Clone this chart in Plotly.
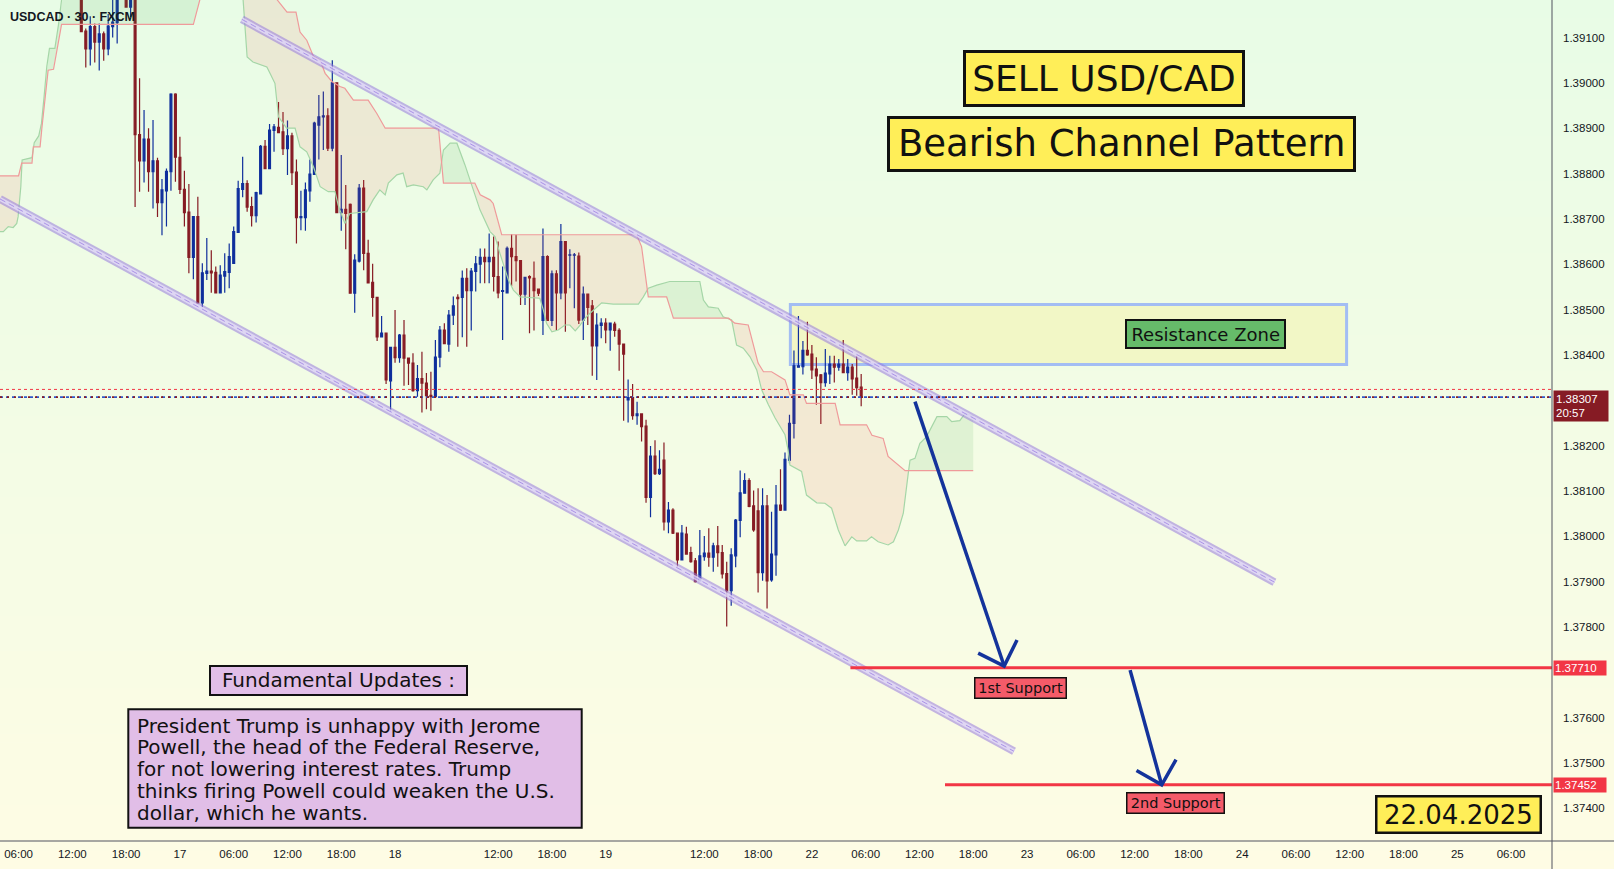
import math
import numpy as np
import plotly.graph_objects as go

# ---------------- data ----------------
candle_idx = list(range(175))
open_ = [1.39200, 1.39114, 1.39075, 1.39124, 1.39090, 1.39108, 1.39075, 1.39124, 1.39133, 1.39195,
         1.39205, 1.39167, 1.39195, 1.38886, 1.38828, 1.38876, 1.38804, 1.38828, 1.38736, 1.38762,
         1.38804, 1.38975, 1.38836, 1.38765, 1.38715, 1.38615, 1.38705, 1.38515, 1.38580, 1.38585,
         1.38582, 1.38537, 1.38574, 1.38582, 1.38602, 1.38670, 1.38765, 1.38778, 1.38727, 1.38707,
         1.38755, 1.38860, 1.38811, 1.38895, 1.38902, 1.38892, 1.38855, 1.38883, 1.38803, 1.38703,
         1.38703, 1.38762, 1.38798, 1.38907, 1.38925, 1.38927, 1.38856, 1.39000, 1.38714, 1.38721,
         1.38732, 1.38536, 1.38607, 1.38768, 1.38624, 1.38560, 1.38527, 1.38440, 1.38448, 1.38343,
         1.38417, 1.38394, 1.38444, 1.38393, 1.38382, 1.38321, 1.38348, 1.38338, 1.38311, 1.38308,
         1.38395, 1.38455, 1.38424, 1.38488, 1.38527, 1.38527, 1.38569, 1.38542, 1.38584, 1.38600,
         1.38615, 1.38606, 1.38615, 1.38573, 1.38540, 1.38537, 1.38635, 1.38617, 1.38608, 1.38534,
         1.38573, 1.38569, 1.38545, 1.38476, 1.38617, 1.38476, 1.38579, 1.38537, 1.38650, 1.38620,
         1.38620, 1.38618, 1.38477, 1.38534, 1.38508, 1.38420, 1.38465, 1.38470, 1.38455, 1.38468,
         1.38454, 1.38424, 1.38301, 1.38306, 1.38266, 1.38270, 1.38243, 1.38086, 1.38177, 1.38138,
         1.38168, 1.38032, 1.38058, 1.38007, 1.37948, 1.38005, 1.37964, 1.37946, 1.37902, 1.37955,
         1.37963, 1.37954, 1.37979, 1.37964, 1.37918, 1.37880, 1.37957, 1.38035, 1.38095, 1.38123,
         1.38067, 1.38056, 1.37920, 1.38067, 1.37904, 1.37959, 1.38069, 1.38058, 1.38168, 1.38249,
         1.38373, 1.38374, 1.38410, 1.38402, 1.38369, 1.38356, 1.38339, 1.38358, 1.38380, 1.38373,
         1.38380, 1.38361, 1.38373, 1.38349, 1.38329]
high = [1.39210, 1.39120, 1.39147, 1.39131, 1.39131, 1.39113, 1.39152, 1.39195, 1.39205, 1.39220,
        1.39215, 1.39200, 1.39205, 1.39010, 1.38940, 1.38900, 1.38918, 1.38835, 1.38788, 1.38811,
        1.38977, 1.38977, 1.38881, 1.38806, 1.38777, 1.38705, 1.38749, 1.38602, 1.38658, 1.38631,
        1.38595, 1.38598, 1.38624, 1.38646, 1.38683, 1.38784, 1.38837, 1.38785, 1.38749, 1.38760,
        1.38863, 1.38874, 1.38909, 1.38909, 1.38958, 1.38936, 1.38917, 1.38890, 1.38831, 1.38762,
        1.38780, 1.38831, 1.38914, 1.38973, 1.38981, 1.38944, 1.39050, 1.39001, 1.38841, 1.38775,
        1.38734, 1.38622, 1.38777, 1.38786, 1.38654, 1.38601, 1.38527, 1.38486, 1.38448, 1.38417,
        1.38499, 1.38446, 1.38477, 1.38393, 1.38404, 1.38378, 1.38407, 1.38360, 1.38363, 1.38433,
        1.38464, 1.38470, 1.38499, 1.38529, 1.38534, 1.38586, 1.38591, 1.38592, 1.38618, 1.38635,
        1.38635, 1.38668, 1.38661, 1.38650, 1.38595, 1.38639, 1.38666, 1.38665, 1.38608, 1.38571,
        1.38576, 1.38606, 1.38545, 1.38679, 1.38620, 1.38586, 1.38587, 1.38689, 1.38650, 1.38633,
        1.38625, 1.38626, 1.38551, 1.38534, 1.38521, 1.38492, 1.38481, 1.38481, 1.38470, 1.38473,
        1.38459, 1.38424, 1.38346, 1.38336, 1.38297, 1.38270, 1.38257, 1.38199, 1.38212, 1.38190,
        1.38207, 1.38076, 1.38062, 1.38007, 1.38025, 1.38021, 1.37977, 1.37952, 1.38014, 1.38001,
        1.38018, 1.37986, 1.38023, 1.37981, 1.37944, 1.37974, 1.38038, 1.38145, 1.38139, 1.38128,
        1.38101, 1.38106, 1.38106, 1.38091, 1.38054, 1.38113, 1.38148, 1.38185, 1.38268, 1.38410,
        1.38486, 1.38431, 1.38473, 1.38422, 1.38395, 1.38358, 1.38413, 1.38398, 1.38398, 1.38391,
        1.38433, 1.38391, 1.38380, 1.38398, 1.38358]
low = [1.39112, 1.39034, 1.39038, 1.39045, 1.39027, 1.39049, 1.39061, 1.39100, 1.39087, 1.39190,
       1.39166, 1.39145, 1.38726, 1.38760, 1.38780, 1.38760, 1.38723, 1.38704, 1.38664, 1.38683,
       1.38762, 1.38782, 1.38755, 1.38683, 1.38580, 1.38567, 1.38514, 1.38505, 1.38565, 1.38537,
       1.38537, 1.38537, 1.38537, 1.38547, 1.38602, 1.38670, 1.38748, 1.38716, 1.38683, 1.38692,
       1.38755, 1.38811, 1.38811, 1.38848, 1.38890, 1.38841, 1.38797, 1.38775, 1.38646, 1.38675,
       1.38674, 1.38738, 1.38798, 1.38831, 1.38852, 1.38850, 1.38849, 1.38714, 1.38674, 1.38633,
       1.38536, 1.38493, 1.38604, 1.38587, 1.38558, 1.38484, 1.38431, 1.38439, 1.38336, 1.38275,
       1.38383, 1.38383, 1.38332, 1.38334, 1.38319, 1.38308, 1.38273, 1.38280, 1.38277, 1.38308,
       1.38373, 1.38424, 1.38407, 1.38466, 1.38418, 1.38439, 1.38418, 1.38454, 1.38540, 1.38558,
       1.38558, 1.38558, 1.38540, 1.38525, 1.38433, 1.38537, 1.38552, 1.38562, 1.38510, 1.38510,
       1.38448, 1.38454, 1.38530, 1.38444, 1.38476, 1.38464, 1.38454, 1.38523, 1.38451, 1.38547,
       1.38503, 1.38468, 1.38433, 1.38466, 1.38354, 1.38345, 1.38437, 1.38426, 1.38409, 1.38440,
       1.38365, 1.38255, 1.38251, 1.38257, 1.38246, 1.38209, 1.38074, 1.38042, 1.38135, 1.38135,
       1.38013, 1.38007, 1.38005, 1.37932, 1.37948, 1.37961, 1.37942, 1.37898, 1.37902, 1.37946,
       1.37933, 1.37922, 1.37933, 1.37907, 1.37801, 1.37847, 1.37932, 1.37998, 1.38095, 1.38064,
       1.38010, 1.37876, 1.37902, 1.37841, 1.37900, 1.37913, 1.38056, 1.38058, 1.38161, 1.38216,
       1.38373, 1.38357, 1.38398, 1.38347, 1.38290, 1.38248, 1.38330, 1.38336, 1.38339, 1.38365,
       1.38361, 1.38343, 1.38312, 1.38310, 1.38287]
close = [1.39113, 1.39075, 1.39124, 1.39090, 1.39108, 1.39075, 1.39125, 1.39134, 1.39195, 1.39210,
         1.39167, 1.39195, 1.38886, 1.38828, 1.38876, 1.38804, 1.38828, 1.38736, 1.38764, 1.38805,
         1.38975, 1.38836, 1.38765, 1.38714, 1.38615, 1.38705, 1.38515, 1.38581, 1.38585, 1.38581,
         1.38537, 1.38576, 1.38584, 1.38617, 1.38672, 1.38767, 1.38778, 1.38726, 1.38707, 1.38758,
         1.38860, 1.38811, 1.38896, 1.38903, 1.38890, 1.38855, 1.38883, 1.38802, 1.38703, 1.38705,
         1.38764, 1.38799, 1.38911, 1.38925, 1.38927, 1.38856, 1.39000, 1.38714, 1.38721, 1.38712,
         1.38536, 1.38609, 1.38768, 1.38624, 1.38559, 1.38527, 1.38440, 1.38448, 1.38345, 1.38417,
         1.38394, 1.38444, 1.38393, 1.38382, 1.38321, 1.38348, 1.38338, 1.38310, 1.38308, 1.38395,
         1.38455, 1.38425, 1.38488, 1.38508, 1.38524, 1.38569, 1.38542, 1.38585, 1.38601, 1.38615,
         1.38606, 1.38615, 1.38573, 1.38537, 1.38542, 1.38635, 1.38617, 1.38608, 1.38534, 1.38571,
         1.38570, 1.38542, 1.38536, 1.38617, 1.38476, 1.38579, 1.38537, 1.38650, 1.38537, 1.38621,
         1.38621, 1.38477, 1.38534, 1.38505, 1.38420, 1.38466, 1.38470, 1.38455, 1.38470, 1.38454,
         1.38424, 1.38402, 1.38306, 1.38266, 1.38270, 1.38242, 1.38086, 1.38177, 1.38138, 1.38148,
         1.38032, 1.38058, 1.38007, 1.37948, 1.38007, 1.37961, 1.37944, 1.37900, 1.37957, 1.37963,
         1.37954, 1.37979, 1.37964, 1.37917, 1.37880, 1.37959, 1.38036, 1.38096, 1.38123, 1.38066,
         1.38014, 1.37920, 1.38067, 1.37902, 1.37961, 1.38069, 1.38058, 1.38170, 1.38249, 1.38376,
         1.38376, 1.38410, 1.38400, 1.38367, 1.38354, 1.38339, 1.38360, 1.38380, 1.38373, 1.38380,
         1.38361, 1.38373, 1.38347, 1.38328, 1.38307]

# Ichimoku cloud: Senkou Span A (green) and Span B (red), at bar index
span_a_idx = [-18.2, -17.4, -16.3, -15.2, -14.4, -14.1, -13.5, -13.2, -11.0, -10.5,
              -9.5, -8.9, -8.3, -7.7, -7.1, -5.9, -5.1, -4.4, -3.5, 35.5,
              36.1, 37.0, 38.3, 41.4, 42.1, 43.2, 44.0, 45.8, 47.7, 48.8,
              50.3, 51.8, 53.3, 55.1, 56.6, 57.3, 58.8, 59.9, 63.7, 65.1,
              66.6, 67.8, 68.5, 70.4, 71.8, 72.6, 74.1, 76.3, 77.1, 78.5,
              80.0, 80.8, 82.3, 83.8, 85.6, 88.2, 88.95, 91.2, 92.3, 93.4,
              94.3, 95.3, 96.4, 97.9, 102.3, 103.1, 103.8, 105.0, 106.4, 107.9,
              109.0, 110.2, 111.3, 112.4, 113.5, 115.0, 116.1, 118.7, 124.3, 125.4,
              126.5, 128.4, 131.3, 138.0, 138.8, 139.9, 142.1, 143.2, 145.1, 146.2,
              147.7, 149.2, 150.7, 151.8, 153.3, 154.8, 155.9, 157.0, 157.7, 158.1,
              160.7, 161.8, 164.1, 165.9, 167.4, 168.9, 170.4, 171.9, 173.0, 175.2,
              176.3, 177.8, 180.0, 181.2, 182.3, 183.4, 184.5, 184.9, 186.0, 187.1,
              188.6, 190.9, 193.1, 194.2, 196.0, 197.2, 199.0]
span_a = [1.38672, 1.38672, 1.38683, 1.38681, 1.38690, 1.38705, 1.38771, 1.38830, 1.38835, 1.38868,
          1.38883, 1.38910, 1.38970, 1.39036, 1.39076, 1.39076, 1.39128, 1.39183, 1.39230, 1.39230,
          1.39183, 1.39057, 1.39046, 1.39035, 1.39021, 1.38999, 1.38925, 1.38900, 1.38900, 1.38859,
          1.38848, 1.38815, 1.38771, 1.38760, 1.38760, 1.38731, 1.38690, 1.38712, 1.38716, 1.38742,
          1.38764, 1.38753, 1.38779, 1.38797, 1.38801, 1.38771, 1.38775, 1.38771, 1.38764, 1.38786,
          1.38801, 1.38852, 1.38867, 1.38867, 1.38819, 1.38742, 1.38720, 1.38672, 1.38661, 1.38624,
          1.38595, 1.38565, 1.38543, 1.38528, 1.38525, 1.38499, 1.38470, 1.38451, 1.38455, 1.38466,
          1.38466, 1.38453, 1.38466, 1.38481, 1.38492, 1.38506, 1.38515, 1.38512, 1.38512, 1.38528,
          1.38547, 1.38554, 1.38562, 1.38562, 1.38521, 1.38506, 1.38503, 1.38484, 1.38477, 1.38422,
          1.38415, 1.38396, 1.38367, 1.38323, 1.38290, 1.38261, 1.38241, 1.38224, 1.38190, 1.38157,
          1.38143, 1.38091, 1.38074, 1.38073, 1.38062, 1.38014, 1.37979, 1.37999, 1.37990, 1.37990,
          1.37999, 1.37988, 1.37981, 1.37988, 1.38014, 1.38051, 1.38139, 1.38168, 1.38172, 1.38205,
          1.38220, 1.38264, 1.38264, 1.38253, 1.38255, 1.38271, 1.38265]
span_b_idx = [-18.2, -14.0, -13.3, -11.0, -10.7, -9.2, -8.8, -8.1, -7.4, -6.2,
              -4.4, 25.0, 26.5, 30.0, 40.0, 43.7, 45.9, 47.9, 48.8, 50.3,
              51.8, 53.3, 54.4, 55.9, 57.7, 58.8, 60.7, 64.0, 65.9, 67.8,
              79.7, 80.8, 87.8, 89.0, 91.2, 91.9, 93.8, 123.9, 125.0, 126.5,
              130.6, 132.1, 144.4, 145.8, 148.8, 151.0, 152.2, 154.0, 157.0, 158.1,
              161.1, 161.8, 168.2, 169.3, 175.2, 176.4, 178.9, 180.0, 181.9, 183.8,
              199.0]
span_b = [1.38795, 1.38795, 1.38823, 1.38823, 1.38859, 1.38859, 1.38900, 1.38958, 1.39028, 1.39030,
          1.39129, 1.39129, 1.39185, 1.39210, 1.39210, 1.39183, 1.39156, 1.39156, 1.39112, 1.39094,
          1.39058, 1.39050, 1.39021, 1.39003, 1.38992, 1.38988, 1.38962, 1.38962, 1.38933, 1.38900,
          1.38900, 1.38779, 1.38779, 1.38753, 1.38742, 1.38734, 1.38665, 1.38665, 1.38639, 1.38528,
          1.38528, 1.38481, 1.38481, 1.38470, 1.38466, 1.38382, 1.38363, 1.38363, 1.38345, 1.38312,
          1.38312, 1.38293, 1.38293, 1.38246, 1.38246, 1.38223, 1.38216, 1.38176, 1.38161, 1.38145,
          1.38145]

# drawings (bar index, price)
channel_upper = [(35.83, 1.39140), (266.2, 1.37899)]
channel_lower = [(-18.14, 1.38744), (208.1, 1.37526)]
resistance_zone = dict(x0=158.2, x1=282.3, y0=1.38379, y1=1.38511)
support_levels = [1.37710, 1.37452]
support_start = [171.6, 192.7]
arrow1 = [(186.0, 1.38297), (205.9, 1.37714)]
arrow2 = [(234.0, 1.37705), (241.05, 1.37452)]
last_price = 1.38307
ask_price = 1.38324

x_tickvals = [-14, -2, 10, 22, 34, 46, 58, 70, 93, 105, 117, 139, 151, 163, 175, 187, 199,
              211, 223, 235, 247, 259, 271, 283, 295, 307, 319]
x_ticktext = ["06:00", "12:00", "18:00", "17", "06:00", "12:00", "18:00", "18", "12:00", "18:00",
              "19", "12:00", "18:00", "22", "06:00", "12:00", "18:00", "23", "06:00", "12:00",
              "18:00", "24", "06:00", "12:00", "18:00", "25", "06:00"]
y_tickvals = [1.374, 1.375, 1.376, 1.378, 1.379, 1.380, 1.381, 1.382, 1.384, 1.385, 1.386,
              1.387, 1.388, 1.389, 1.390, 1.391]

fundamental_lines = ["President Trump is unhappy with Jerome",
                     "Powell, the head of the Federal Reserve,",
                     "for not lowering interest rates. Trump",
                     "thinks firing Powell could weaken the U.S.",
                     "dollar, which he wants."]

# ---------------- layout constants ----------------
W, H = 1614, 869
ML, MR, MT, MB = 0, 62, 0, 28
PW, PH = W - ML - MR, H - MT - MB
X_RANGE = [-18.14, 328.13]
Y_RANGE = [1.373282, 1.391827]
XS = PW / (X_RANGE[1] - X_RANGE[0])
YS = PH / (Y_RANGE[1] - Y_RANGE[0])

BLUE = '#0f2f9c'
RED = '#861b24'
FONT = 'DejaVu Sans'


def pp(xpx, ypx):
    return xpx / PW, 1 - ypx / PH


fig = go.Figure()

# ---- Ichimoku cloud fills ----
g = np.linspace(span_a_idx[0], span_a_idx[-1], 4000)
a = np.interp(g, span_a_idx, span_a)
b = np.interp(g, span_b_idx, span_b)
up = a >= b
start = 0
n = len(g)
for k in range(1, n + 1):
    if k == n or up[k] != up[start]:
        s, e = max(start - 1, 0), min(k, n - 1)
        xs = g[s:e + 1]
        fig.add_trace(go.Scatter(
            x=np.concatenate([xs, xs[::-1]]),
            y=np.concatenate([a[s:e + 1], b[s:e + 1][::-1]]),
            fill='toself', mode='lines', line=dict(width=0),
            fillcolor='rgba(67,160,71,0.11)' if up[start] else 'rgba(244,67,54,0.10)',
            hoverinfo='skip'))
        start = k

fig.add_trace(go.Scatter(x=span_a_idx, y=span_a, mode='lines',
                         line=dict(color='#a5d6a7', width=1.2), hoverinfo='skip'))
fig.add_trace(go.Scatter(x=span_b_idx, y=span_b, mode='lines',
                         line=dict(color='#ef9a9a', width=1.2), hoverinfo='skip'))

# ---- candles ----
fig.add_trace(go.Candlestick(
    x=candle_idx, open=open_, high=high, low=low, close=close,
    increasing=dict(line=dict(color=BLUE, width=1.2), fillcolor=BLUE),
    decreasing=dict(line=dict(color=RED, width=1.2), fillcolor=RED),
    whiskerwidth=0, hoverinfo='skip'))

# ---- parallel channel ----
for ln in (channel_upper, channel_lower):
    xs = [p[0] for p in ln]
    ys = [p[1] for p in ln]
    fig.add_trace(go.Scatter(x=xs, y=ys, mode='lines',
                             line=dict(color='rgba(150,120,220,0.55)', width=8), hoverinfo='skip'))
    fig.add_trace(go.Scatter(x=xs, y=ys, mode='lines',
                             line=dict(color='rgba(232,225,250,0.75)', width=4), hoverinfo='skip'))
    fig.add_trace(go.Scatter(x=xs, y=ys, mode='lines',
                             line=dict(color='rgba(165,140,228,0.9)', width=1, dash='6px,4px'),
                             hoverinfo='skip'))

# ---- supports ----
for lvl, x0 in zip(support_levels, support_start):
    fig.add_trace(go.Scatter(x=[x0, X_RANGE[1] + 5], y=[lvl, lvl], mode='lines',
                             line=dict(color='#f23645', width=3), hoverinfo='skip'))


# ---- arrows ----
def arrow_coords(start, tip, ang=45.0, L=29.0):
    dx = (start[0] - tip[0]) * XS
    dy = -(start[1] - tip[1]) * YS
    nrm = math.hypot(dx, dy)
    ux, uy = dx / nrm, dy / nrm
    wings = []
    for sgn in (1, -1):
        r = math.radians(ang * sgn)
        wx = (ux * math.cos(r) - uy * math.sin(r)) * L
        wy = (ux * math.sin(r) + uy * math.cos(r)) * L
        wings.append((tip[0] + wx / XS, tip[1] - wy / YS))
    xs = [start[0], tip[0], None, wings[0][0], tip[0], wings[1][0]]
    ys = [start[1], tip[1], None, wings[0][1], tip[1], wings[1][1]]
    return xs, ys


for arr in (arrow1, arrow2):
    xs, ys = arrow_coords(arr[0], arr[1])
    fig.add_trace(go.Scatter(x=xs, y=ys, mode='lines',
                             line=dict(color='#14339b', width=3.5), hoverinfo='skip'))

# ---------------- shapes ----------------
shapes = []
# page gradient background
NB = 96
top_c = np.array([232, 252, 230])
bot_c = np.array([254, 252, 228])
for k in range(NB):
    y0 = k * H / NB
    y1 = (k + 1) * H / NB
    t = (k + 0.5) / NB
    c = top_c + (bot_c - top_c) * t
    shapes.append(dict(type='rect', xref='paper', yref='paper', x0=0, x1=W / PW,
                       y0=1 - (y1 + 0.6) / PH, y1=1 - y0 / PH, layer='below',
                       line=dict(width=0),
                       fillcolor='rgb(%d,%d,%d)' % tuple(int(round(v)) for v in c)))
# resistance zone
shapes.append(dict(type='rect', xref='x', yref='y', layer='below',
                   x0=resistance_zone['x0'], x1=resistance_zone['x1'],
                   y0=resistance_zone['y0'], y1=resistance_zone['y1'],
                   line=dict(color='#a3bdf3', width=3), fillcolor='#f2f7c6'))
# price lines
shapes.append(dict(type='line', xref='paper', yref='y', x0=0, x1=1, y0=ask_price, y1=ask_price,
                   line=dict(color='#f23645', width=1, dash='dot')))
shapes.append(dict(type='line', xref='paper', yref='y', x0=0, x1=1, y0=last_price, y1=last_price,
                   line=dict(color='#2f56c8', width=1.6, dash='dot')))
shapes.append(dict(type='line', xref='paper', yref='y', x0=0, x1=1, y0=last_price, y1=last_price,
                   line=dict(color='#861b24', width=1.6, dash='2px,5px')))
# fundamental body box
bx0, by0 = pp(128.3, 709.3)
bx1, by1 = pp(581.7, 827.7)
shapes.append(dict(type='rect', xref='paper', yref='paper', x0=bx0, x1=bx1, y0=by1, y1=by0,
                   line=dict(color='#111111', width=2), fillcolor='#e1bee7'))
# axis frame lines
shapes.append(dict(type='line', xref='paper', yref='paper', x0=0, x1=W / PW, y0=0, y1=0,
                   line=dict(color='#50535e', width=1)))
shapes.append(dict(type='line', xref='paper', yref='paper', x0=1, x1=1, y0=-MB / PH, y1=1,
                   line=dict(color='#50535e', width=1)))

# ---------------- annotations ----------------
ann = []


def box(text, cx, cy, w, h, size, bg, bw=2, color='#111111', family=FONT):
    x, y = pp(cx, cy)
    ann.append(dict(text=text, x=x, y=y, xref='paper', yref='paper', xanchor='center',
                    yanchor='middle', showarrow=False, width=w - 2 * bw, height=h - 2 * bw,
                    borderpad=0, borderwidth=bw, bordercolor='#111111', bgcolor=bg,
                    font=dict(family=family, size=size, color=color)))


box('SELL USD/CAD', 1103.5, 78.7, 282, 56.6, 36, '#ffee58', bw=3)
box('Bearish Channel Pattern', 1121.0, 144.1, 469.4, 55.6, 37, '#ffee58', bw=3)
box('Resistance Zone', 1205.0, 334.3, 161.4, 30, 18, '#66bb6a', bw=2)
box('1st Support', 1020.0, 687.5, 93.4, 21.6, 14.5, '#f45b69', bw=1.5)
box('2nd Support', 1175.0, 803.3, 99.4, 22, 14.5, '#f45b69', bw=1.5)
box('22.04.2025', 1458.6, 814.2, 166.8, 39.2, 26, '#ffee58', bw=2.5)
box('Fundamental Updates :', 338.8, 680.3, 259, 30.7, 20, '#e1bee7', bw=2)

for k, line in enumerate(fundamental_lines):
    x, y = pp(134.5, 725.5 + k * 21.9)
    ann.append(dict(text=line, x=x, y=y, xref='paper', yref='paper', xanchor='left',
                    yanchor='middle', showarrow=False,
                    font=dict(family=FONT, size=20, color='#111111')))

# chart title
x, y = pp(8, 16.5)
ann.append(dict(text='<b>USDCAD · 30 · FXCM</b>', x=x, y=y, xref='paper', yref='paper',
                xanchor='left', yanchor='middle', showarrow=False,
                font=dict(family='Liberation Sans', size=12.5, color='#131722')))

# price-axis labels
ann.append(dict(text='1.38307<br>20:57', x=1, y=last_price, xref='paper', yref='y',
                xanchor='left', yanchor='top', yshift=7, xshift=1, showarrow=False, align='left',
                width=50, height=26, borderpad=2, bgcolor='#861b24',
                font=dict(family='Liberation Sans', size=11.5, color='#ffffff')))
for lvl in support_levels:
    ann.append(dict(text='%.5f' % lvl, x=1, y=lvl, xref='paper', yref='y',
                    xanchor='left', yanchor='middle', xshift=1, showarrow=False, align='left',
                    width=50, height=12, borderpad=1, bgcolor='#f23645',
                    font=dict(family='Liberation Sans', size=11.5, color='#ffffff')))

fig.update_layout(
    template='none',
    width=W, height=H,
    margin=dict(l=ML, r=MR, t=MT, b=MB, pad=0),
    paper_bgcolor='rgb(243,252,229)', plot_bgcolor='rgba(0,0,0,0)',
    showlegend=False, hovermode=False, boxgap=0.4,
    shapes=shapes, annotations=ann,
    xaxis=dict(range=X_RANGE, showgrid=False, zeroline=False, showline=False,
               tickmode='array', tickvals=x_tickvals, ticktext=x_ticktext, ticks='',
               ticklabelstandoff=4, automargin=False,
               tickfont=dict(family='Liberation Sans', size=11.5, color='#131722'),
               rangeslider=dict(visible=False), fixedrange=True),
    yaxis=dict(range=Y_RANGE, side='right', showgrid=False, zeroline=False, showline=False,
               tickmode='array', tickvals=y_tickvals, ticktext=['%.5f' % v for v in y_tickvals],
               ticks='', ticklabelstandoff=10, automargin=False,
               tickfont=dict(family='Liberation Sans', size=11.5, color='#131722'),
               fixedrange=True),
)

fig.write_html("out.html", include_plotlyjs=True, config={'displayModeBar': False})
